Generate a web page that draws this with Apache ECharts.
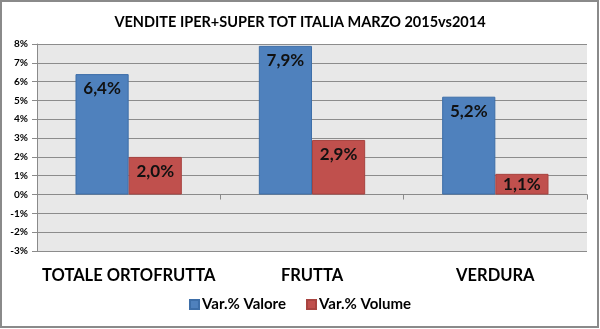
<!DOCTYPE html>
<html>
<head>
<meta charset="utf-8">
<script src="https://cdn.jsdelivr.net/npm/echarts@6/dist/echarts.min.js"></script>
<style>
  html, body { margin: 0; padding: 0; background: #fff; }
  #chart { width: 600px; height: 329px; }
</style>
</head>
<body>
<div id="chart"></div>
<script>
// dati
var categorie = ['TOTALE ORTOFRUTTA', 'FRUTTA', 'VERDURA'];
var nomiSerie = ['Var.% Valore', 'Var.% Volume'];
var varValore = [6.4, 7.9, 5.2];
var varVolume = [2.0, 2.9, 1.1];

var FONT = 'Lato, "Open Sans", sans-serif';

function fmtPerc(v){
	return v.toFixed(1).replace('.', ',') + '%';
}

// barre basse: etichetta centrata
function datiBarre(lista){
	var out = [];
	for(var i = 0; i < lista.length; i++){
		var d = { value: lista[i] };
		if(lista[i] < 1.5){
			d.label = { position: 'inside' };
		}
		out.push(d);
	}
	return out;
}

var myChart = echarts.init(document.getElementById('chart'));

var etichetta = {
	show: true,
	position: 'insideTop',
	distance: 6,
	formatter: function(p){ return fmtPerc(p.value); },
	fontFamily: FONT, fontWeight: 'bold', fontSize: 17, color: '#111'
};

var option = {
	animation: false,
	title: {
		text: 'VENDITE IPER+SUPER TOT ITALIA MARZO 2015vs2014',
		left: 'center',
		top: 10,
		textStyle: { fontFamily: FONT, fontWeight: 'bold', fontSize: 14.5, color: '#000' }
	},
	graphic: [
		{
			type: 'rect',
			shape: { x: 1, y: 1, width: 597, height: 326 },
			style: { fill: 'none', stroke: '#8a8a8a', lineWidth: 2 },
			silent: true
		}
	],
	legend: {
		data: nomiSerie,
		bottom: 12,
		left: 'center',
		itemWidth: 9,
		itemHeight: 9,
		itemGap: 20,
		icon: 'rect',
		textStyle: { fontFamily: FONT, fontWeight: 'bold', fontSize: 15, color: '#000', padding: [0, 0, 0, -2] }
	},
	grid: {
		left: 37,
		right: 13,
		top: 44,
		bottom: 78,
		show: true,
		backgroundColor: '#e8e8e8',
		borderWidth: 0
	},
	xAxis: [
		{
			type: 'category',
			data: categorie,
			axisLine: { onZero: true, lineStyle: { color: '#8a8a8a', width: 1 } },
			axisTick: { show: true, length: 5, lineStyle: { color: '#8a8a8a' } },
			axisLabel: { show: false }
		},
		{
			type: 'category',
			data: categorie,
			position: 'bottom',
			axisLine: { show: false },
			axisTick: { show: false },
			axisLabel: {
				interval: 0,
				hideOverlap: false,
				margin: 16,
				fontFamily: FONT, fontWeight: 'bold', fontSize: 16.5, color: '#000'
			}
		}
	],
	yAxis: {
		type: 'value',
		min: -3,
		max: 8,
		interval: 1,
		axisLine: { show: true, lineStyle: { color: '#8a8a8a' } },
		axisTick: { show: true, length: 5, lineStyle: { color: '#8a8a8a' } },
		splitLine: { lineStyle: { color: '#8c8c8c', width: 1 } },
		axisLabel: {
			margin: 9,
			formatter: '{value}%',
			fontFamily: FONT, fontWeight: 'bold', fontSize: 10, color: '#000'
		}
	},
	series: [
		{
			name: nomiSerie[0],
			type: 'bar',
			data: datiBarre(varValore),
			barGap: '0%',
			barCategoryGap: '42%',
			itemStyle: { color: '#4f81bd', borderColor: '#3d6ea8', borderWidth: 1 },
			label: etichetta
		},
		{
			name: nomiSerie[1],
			type: 'bar',
			data: datiBarre(varVolume),
			itemStyle: { color: '#c0504d', borderColor: '#a84440', borderWidth: 1 },
			label: etichetta
		}
	]
};

myChart.setOption(option);
window.onresize = myChart.resize;
</script>
</body>
</html>
